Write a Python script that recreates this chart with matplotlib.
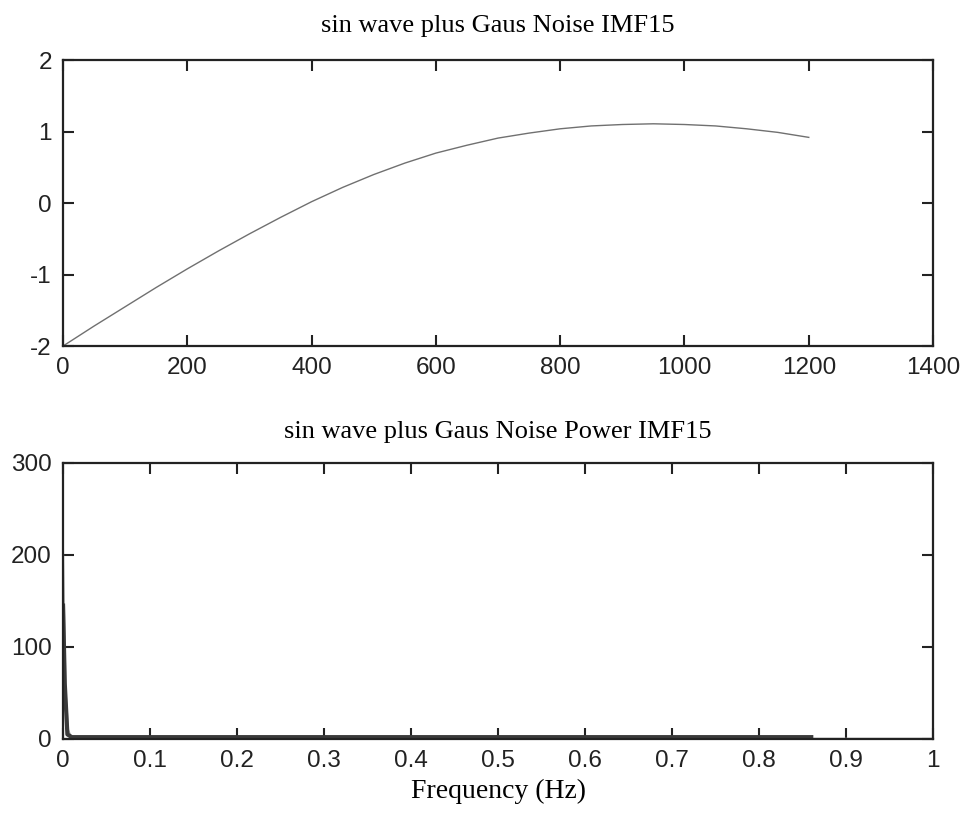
import numpy as np
import matplotlib
matplotlib.use("Agg")
import matplotlib.pyplot as plt
from matplotlib import font_manager

# IMF15 of the noisy sine wave (sample index vs amplitude)
imf_index = [0, 50, 100, 150, 200, 250, 300, 350, 400, 450, 500, 550, 600,
             650, 700, 750, 800, 850, 900, 950, 1000, 1050, 1100, 1150, 1200]
imf_value = [-2.00, -1.72, -1.45, -1.18, -0.92, -0.67, -0.43, -0.20, 0.02,
             0.22, 0.40, 0.56, 0.70, 0.81, 0.91, 0.98, 1.04, 1.08, 1.10,
             1.11, 1.10, 1.08, 1.04, 0.99, 0.92]

# power spectrum of IMF15, two traces
freq_full = [0.0, 0.003, 0.006, 0.01, 1.0]
power_full = [215, 55, 10, 0.5, 0.5]
freq_half = [0.0, 0.002, 0.005, 0.01, 0.86]
power_half = [145, 60, 5, 2, 2]

x1_ticks = [0, 200, 400, 600, 800, 1000, 1200, 1400]
y1_ticks = [-2, -1, 0, 1, 2]
x2_ticks = [0, 0.1, 0.2, 0.3, 0.4, 0.5, 0.6, 0.7, 0.8, 0.9, 1]
x2_labels = ["0", "0.1", "0.2", "0.3", "0.4", "0.5", "0.6", "0.7", "0.8", "0.9", "1"]
y2_ticks = [0, 100, 200, 300]

# narrow sans for the tick numbers if we have it
installed = {f.name for f in font_manager.fontManager.ttflist}
if "Liberation Sans Narrow" in installed:
    tick_font = "Liberation Sans Narrow"
    tick_size = 20
else:
    tick_font = "Liberation Sans"
    tick_size = 17.5
title_font = "Liberation Serif"
dark = "#222222"

fig = plt.figure(figsize=(9.64, 8.19), dpi=100)
ax1 = fig.add_axes([0.0654, 0.5775, 0.9025, 0.349])
ax2 = fig.add_axes([0.0654, 0.0977, 0.9025, 0.337])

ax1.plot(imf_index, imf_value, color="#707070", lw=1.0)
ax1.set_xlim(0, 1400)
ax1.set_ylim(-2, 2)
ax1.set_xticks(x1_ticks)
ax1.set_yticks(y1_ticks)
ax1.set_yticklabels([str(v) for v in y1_ticks])
ax1.set_title("sin wave plus Gaus Noise IMF15", family=title_font,
              fontsize=19, pad=20)

ax2.plot(freq_full, power_full, color="#a8a8a8", lw=1.2)
ax2.plot(freq_half, power_half, color="#3a3a3a", lw=3)
ax2.set_xlim(0, 1)
ax2.set_ylim(0, 300)
ax2.set_xticks(x2_ticks)
ax2.set_xticklabels(x2_labels)
ax2.set_yticks(y2_ticks)
ax2.set_title("sin wave plus Gaus Noise Power IMF15", family=title_font,
              fontsize=19, pad=18)
ax2.set_xlabel("Frequency (Hz)", family=title_font, fontsize=20, labelpad=5)

for ax in (ax1, ax2):
    for sp in ax.spines.values():
        sp.set_linewidth(1.6)
        sp.set_color(dark)
    ax.tick_params(direction="in", top=True, right=True, length=8,
                   width=1.5, color=dark, labelsize=tick_size, pad=8)
    for lab in ax.get_xticklabels() + ax.get_yticklabels():
        lab.set_family(tick_font)
        lab.set_color(dark)

fig.savefig("out.png", dpi=100, facecolor="white")
